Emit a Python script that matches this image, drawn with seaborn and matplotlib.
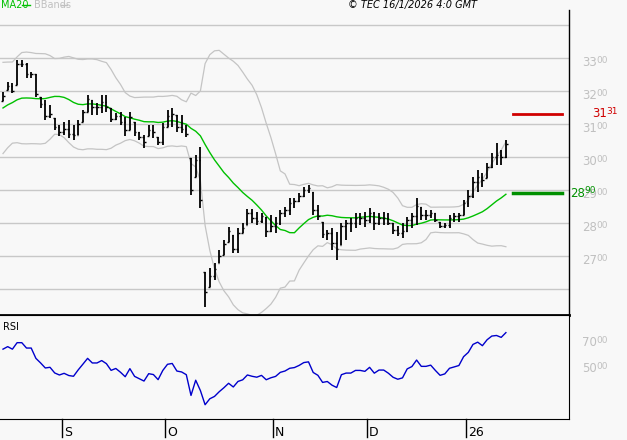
import matplotlib
matplotlib.use("Agg")
import matplotlib.pyplot as plt
import matplotlib.transforms as mtransforms
import numpy as np
import pandas as pd
import seaborn as sns

# closes before the visible window (feed the MA20 / bands / RSI warm-up)
pre_closes = [3030, 3060, 3110, 3180, 3240, 3260, 3220, 3170, 3110, 3060,
              3030, 3080, 3140, 3200, 3240, 3210, 3160, 3130, 3150]

highs = [3198, 3227, 3225, 3294, 3294, 3285, 3258, 3250, 3182, 3173,
         3158, 3118, 3097, 3106, 3112, 3097, 3112, 3142, 3188, 3173,
         3164, 3188, 3188, 3148, 3133, 3136, 3121, 3136, 3106, 3076,
         3067, 3097, 3097, 3061, 3103, 3142, 3148, 3127, 3127, 3097,
         2997, 3006, 3030, 2652, 2664, 2679, 2718, 2748, 2788, 2764,
         2785, 2800, 2842, 2842, 2833, 2830, 2818, 2824, 2818, 2839,
         2848, 2876, 2876, 2891, 2909, 2915, 2894, 2855, 2803, 2779,
         2785, 2773, 2800, 2809, 2815, 2830, 2830, 2833, 2845, 2833,
         2830, 2833, 2830, 2800, 2790, 2800, 2818, 2830, 2876, 2848,
         2839, 2839, 2830, 2803, 2800, 2824, 2830, 2830, 2870, 2900,
         2939, 2961, 2952, 2982, 3012, 3042, 3021, 3052]
lows = [3168, 3203, 3195, 3218, 3273, 3240, 3240, 3182, 3148, 3112,
        3118, 3082, 3062, 3067, 3058, 3052, 3067, 3106, 3136, 3127,
        3127, 3133, 3136, 3106, 3112, 3097, 3062, 3082, 3062, 3052,
        3027, 3062, 3058, 3036, 3036, 3091, 3091, 3076, 3073, 3061,
        2885, 2940, 2845, 2545, 2606, 2627, 2679, 2703, 2742, 2709,
        2709, 2770, 2794, 2800, 2794, 2800, 2758, 2773, 2770, 2794,
        2818, 2824, 2845, 2864, 2879, 2891, 2824, 2809, 2755, 2748,
        2718, 2688, 2733, 2748, 2773, 2785, 2794, 2788, 2800, 2779,
        2794, 2794, 2795, 2765, 2760, 2755, 2773, 2785, 2794, 2809,
        2809, 2815, 2803, 2785, 2785, 2785, 2803, 2803, 2824, 2848,
        2876, 2894, 2909, 2936, 2967, 2976, 2976, 2997]
closes = [3185, 3215, 3200, 3280, 3280, 3250, 3250, 3190, 3160, 3125,
          3130, 3090, 3075, 3085, 3070, 3065, 3100, 3135, 3175, 3150,
          3150, 3165, 3150, 3115, 3125, 3105, 3080, 3120, 3075, 3060,
          3045, 3080, 3075, 3045, 3090, 3125, 3130, 3090, 3085, 3070,
          2900, 2990, 2870, 2590, 2640, 2660, 2700, 2735, 2775, 2720,
          2770, 2785, 2830, 2815, 2805, 2820, 2775, 2790, 2800, 2830,
          2840, 2860, 2865, 2880, 2900, 2905, 2840, 2820, 2765, 2770,
          2740, 2720, 2790, 2800, 2800, 2815, 2815, 2810, 2830, 2800,
          2815, 2815, 2800, 2780, 2770, 2775, 2810, 2820, 2850, 2825,
          2825, 2830, 2810, 2790, 2795, 2815, 2820, 2825, 2860, 2880,
          2925, 2940, 2930, 2970, 3000, 3005, 3000, 3040]

month_labels = ["S", "O", "N", "D", "26"]
price_ticks = [3300, 3200, 3100, 3000, 2900, 2800, 2700]
rsi_ticks = [70, 50]
target_level = 3131
ma_level = 2890
stamp = "© TEC 16/1/2026 4:0 GMT"

bg = "#f8f8f8"
grid = "#c8c8c8"
green = "#00c000"

# business days from Aug 13 2025, without Dec 25/26 and Jan 1
days = pd.bdate_range("2025-08-13", "2026-01-31")
days = days[~days.isin(pd.to_datetime(["2025-12-25", "2025-12-26", "2026-01-01"]))]
n = len(closes)
days = days[:n]
x = np.arange(n)

full = pd.Series(pre_closes + closes)
ma = full.rolling(20).mean()
sd = full.rolling(20).std(ddof=0)
delta = full.diff()
gain = delta.clip(lower=0).ewm(alpha=1 / 14, adjust=False).mean()
loss = (-delta.clip(upper=0)).ewm(alpha=1 / 14, adjust=False).mean()
rsi = 100 - 100 / (1 + gain / loss)
k = len(pre_closes)
df = pd.DataFrame({"x": x, "ma": ma[k:].values, "up": (ma + 2 * sd)[k:].values,
                   "lo": (ma - 2 * sd)[k:].values, "rsi": rsi[k:].values})
opens = np.clip([pre_closes[-1]] + closes[:-1], lows, highs)

fig = plt.figure(figsize=(6.27, 4.4), dpi=100, facecolor=bg)
ax = fig.add_axes([0, 125 / 440, 569 / 627, 305 / 440], facecolor=bg)
ax2 = fig.add_axes([0, 21 / 440, 569 / 627, 104 / 440], facecolor=bg)

xlim = (-3 / 4.7, (569 - 3) / 4.7)
ax.set_xlim(*xlim)
ax.set_ylim(2521, 3445)
for p in [3400] + price_ticks + [2600]:
    ax.axhline(p, color=grid, lw=1, zorder=0)

sns.lineplot(data=df, x="x", y="up", ax=ax, color="#c4c4c4", lw=0.9)
sns.lineplot(data=df, x="x", y="lo", ax=ax, color="#c4c4c4", lw=0.9)
sns.lineplot(data=df, x="x", y="ma", ax=ax, color=green, lw=1)
ax.vlines(x, lows, highs, color="black", lw=1.3)
ax.hlines(closes, x, x + 0.35, color="black", lw=1)
ax.hlines(opens, x - 0.35, x, color="black", lw=1)

ax.plot([108.5, 119], [target_level] * 2, color="#d00000", lw=2)
ax.plot([108.5, 119], [ma_level] * 2, color="#009000", lw=2.5)

for s in ["top", "left"]:
    ax.spines[s].set_visible(False)
ax.spines["bottom"].set_linewidth(2)
ax.spines["right"].set_linewidth(1)
ax.set_xticks([])
ax.set_yticks([])
ax.set_xlabel("")
ax.set_ylabel("")


def split_label(axis, trans, xpos, yval, text, color, lift):
    # big leading digits plus small raised trailing pair, as in the reference
    axis.text(xpos / 627, yval, text[:2], transform=trans, color=color, fontsize=8.5, va="center")
    axis.text((xpos + 14) / 627, yval + lift, text[2:], transform=trans, color=color, fontsize=6.5, va="center")


tr = mtransforms.blended_transform_factory(fig.transFigure, ax.transData)
for p in price_ticks:
    split_label(ax, tr, 582, p - 15, str(p), "#c0c0c0", 7)
split_label(ax, tr, 592, target_level, str(target_level), "#d00000", 7)
split_label(ax, tr, 570, ma_level, str(ma_level), "#009000", 7)

fig.text(1 / 627, 1 - 5 / 440, "MA20", color=green, fontsize=7, va="center")
fig.lines.append(plt.Line2D([22 / 627, 30 / 627], [1 - 5 / 440] * 2, color=green, lw=1, transform=fig.transFigure))
fig.text(34 / 627, 1 - 5 / 440, "BBands", color="#c0c0c0", fontsize=7, va="center")
fig.lines.append(plt.Line2D([61 / 627, 67 / 627], [1 - 5 / 440] * 2, color="#c0c0c0", lw=1, transform=fig.transFigure))
fig.text(477 / 627, 1 - 5 / 440, stamp, fontsize=7, style="italic", ha="right", va="center")

ax2.set_xlim(*xlim)
ax2.set_ylim(11.5, 91.5)
sns.lineplot(data=df, x="x", y="rsi", ax=ax2, color="#0000cc", lw=1)
ax2.spines["left"].set_visible(False)
ax2.set_xticks([])
ax2.set_yticks([])
ax2.set_xlabel("")
ax2.set_ylabel("")
ax2.text(3 / 569, 0.88, "RSI", transform=ax2.transAxes, fontsize=7, va="center")
tr2 = mtransforms.blended_transform_factory(fig.transFigure, ax2.transData)
for r in rsi_ticks:
    split_label(ax2, tr2, 582, r, str(r) + "00", "#c0c0c0", 1.8)

trm = mtransforms.blended_transform_factory(ax2.transData, ax2.transAxes)
months = days.to_period("M")
first_idx = [i for i in range(1, n) if months[i] != months[i - 1]]
for i, lab in zip(first_idx, month_labels):
    ax2.plot([i - 0.5, i - 0.5], [-0.17, 0], color="black", lw=1, transform=trm, clip_on=False)
    ax2.text(i - 0.1, -0.13, lab, transform=trm, fontsize=9, va="center")

fig.savefig("out.png", dpi=100, facecolor=bg)
